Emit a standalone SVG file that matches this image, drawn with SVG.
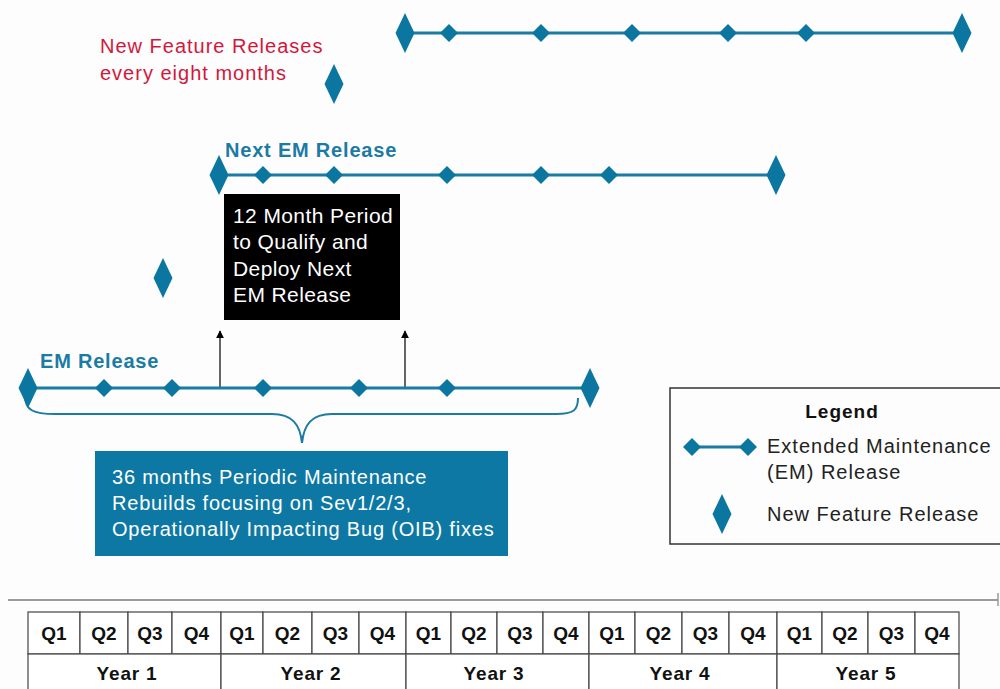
<svg xmlns="http://www.w3.org/2000/svg" xmlns:xlink="http://www.w3.org/1999/xlink" width="1000" height="689" viewBox="0 0 1000 689">
<defs>
<style>
.bg{fill:#fdfdfd}
.ln{stroke:#1b7ba5;stroke-width:3;fill:none}
.dm{fill:#0b77a1}
.red{font-family:"Liberation Sans",Arial,sans-serif;font-size:20px;letter-spacing:1px;fill:#d3173c}
.lbl{font-family:"Liberation Sans",Arial,sans-serif;font-size:20px;letter-spacing:0.8px;font-weight:bold;fill:#1b7ba5}
.wt{font-family:"Liberation Sans",Arial,sans-serif;font-size:20px;letter-spacing:0.8px;fill:#ffffff}
.wn{font-family:"Liberation Sans",Arial,sans-serif;font-size:21px;letter-spacing:0.4px;fill:#ffffff}
.lg{font-family:"Liberation Sans",Arial,sans-serif;font-size:20px;letter-spacing:1px;fill:#222}
.lgb{font-family:"Liberation Sans",Arial,sans-serif;font-size:19px;letter-spacing:1px;font-weight:bold;fill:#111}
.q{font-family:"Liberation Sans",Arial,sans-serif;font-size:19px;font-weight:bold;fill:#111;text-anchor:middle}
.y{font-family:"Liberation Sans",Arial,sans-serif;font-size:19px;letter-spacing:0.8px;font-weight:bold;fill:#111;text-anchor:middle}
.cell{fill:#fff;stroke:#444;stroke-width:1.2}
.arr{stroke:#000;stroke-width:1.2;fill:none;marker-end:url(#ah)}
</style>
<path id="sd" d="M0,-9 L9,0 L0,9 L-9,0Z"/>
<path id="bd" d="M0,-20 L9.5,0 L0,20 L-9.5,0Z"/>
<marker id="ah" viewBox="0 0 10 10" refX="9" refY="5" markerWidth="8" markerHeight="8" orient="auto" markerUnits="userSpaceOnUse">
<path d="M0,0 L10,5 L0,10Z" fill="#000"/>
</marker>
</defs>
<rect class="bg" x="0" y="0" width="1000" height="689"/>

<g id="connectors">
<line class="arr" x1="220" y1="388" x2="220" y2="331"/>
<line class="arr" x1="405" y1="388" x2="405" y2="331"/>
<path d="M25,396 C25,410 33,414 55,414 L272,414 C292,414 300,424 302,443 C304,424 312,414 332,414 L556,414 C574,414 578,410 578,398" stroke="#1b7ba5" stroke-width="2" fill="none"/>
</g>

<g id="nf-label">
<text class="red" x="100" y="53">New Feature Releases</text>
<text class="red" x="100" y="80">every eight months</text>
</g>

<g id="em-top">
<line class="ln" x1="405" y1="33" x2="962" y2="33"/>
<use href="#bd" class="dm" x="405" y="33"/>
<use href="#sd" class="dm" x="449" y="33"/>
<use href="#sd" class="dm" x="541" y="33"/>
<use href="#sd" class="dm" x="632" y="33"/>
<use href="#sd" class="dm" x="728" y="33"/>
<use href="#sd" class="dm" x="806" y="33"/>
<use href="#bd" class="dm" x="962" y="33"/>
</g>

<g id="nf-1"><use href="#bd" class="dm" x="334" y="84"/></g>
<g id="nf-2"><use href="#bd" class="dm" x="163" y="278"/></g>

<g id="em-next">
<text class="lbl" x="225" y="157">Next EM Release</text>
<line class="ln" x1="219" y1="175" x2="776" y2="175"/>
<use href="#bd" class="dm" x="219" y="175"/>
<use href="#sd" class="dm" x="263" y="175"/>
<use href="#sd" class="dm" x="334" y="175"/>
<use href="#sd" class="dm" x="447" y="175"/>
<use href="#sd" class="dm" x="541" y="175"/>
<use href="#sd" class="dm" x="609" y="175"/>
<use href="#bd" class="dm" x="776" y="175"/>
</g>

<g id="qualify-box">
<rect x="224" y="194" width="176" height="126" fill="#000"/>
<text class="wn" x="233" y="223">12 Month Period</text>
<text class="wn" x="233" y="249">to Qualify and</text>
<text class="wn" x="233" y="276">Deploy Next</text>
<text class="wn" x="233" y="302">EM Release</text>
</g>

<g id="em-current">
<text class="lbl" x="40" y="368">EM Release</text>
<line class="ln" x1="28" y1="388" x2="590" y2="388"/>
<use href="#bd" class="dm" x="28" y="388"/>
<use href="#sd" class="dm" x="104" y="388"/>
<use href="#sd" class="dm" x="172" y="388"/>
<use href="#sd" class="dm" x="263" y="388"/>
<use href="#sd" class="dm" x="359" y="388"/>
<use href="#sd" class="dm" x="447" y="388"/>
<use href="#bd" class="dm" x="590" y="388"/>
</g>

<g id="maintenance-box">
<rect x="95" y="451" width="413" height="105" fill="#0d78a4"/>
<text class="wt" x="112" y="484">36 months Periodic Maintenance</text>
<text class="wt" x="112" y="510">Rebuilds focusing on Sev1/2/3,</text>
<text class="wt" x="112" y="536">Operationally Impacting Bug (OIB) fixes</text>
</g>

<g id="legend">
<rect x="670" y="388" width="340" height="156" fill="#fdfdfd" stroke="#333" stroke-width="1.5"/>
<text class="lgb" x="842" y="418" text-anchor="middle">Legend</text>
<line class="ln" x1="692" y1="447" x2="748" y2="447" stroke-width="2.5"/>
<use href="#sd" class="dm" x="692" y="447"/>
<use href="#sd" class="dm" x="748" y="447"/>
<text class="lg" x="767" y="453">Extended Maintenance</text>
<text class="lg" x="767" y="479">(EM) Release</text>
<use href="#bd" class="dm" x="722" y="514"/>
<text class="lg" x="767" y="521">New Feature Release</text>
</g>

<g id="timeline">
<line x1="8" y1="600" x2="998" y2="600" stroke="#9a9a9a" stroke-width="2"/>
<line x1="998" y1="593" x2="998" y2="606" stroke="#9a9a9a" stroke-width="1.5"/>
<g id="quarters">
<rect class="cell" x="28" y="612" width="52" height="42"/>
<rect class="cell" x="80" y="612" width="48" height="42"/>
<rect class="cell" x="128" y="612" width="44" height="42"/>
<rect class="cell" x="172" y="612" width="49" height="42"/>
<rect class="cell" x="221" y="612" width="42" height="42"/>
<rect class="cell" x="263" y="612" width="49" height="42"/>
<rect class="cell" x="312" y="612" width="47" height="42"/>
<rect class="cell" x="359" y="612" width="47" height="42"/>
<rect class="cell" x="406" y="612" width="45" height="42"/>
<rect class="cell" x="451" y="612" width="46" height="42"/>
<rect class="cell" x="497" y="612" width="46" height="42"/>
<rect class="cell" x="543" y="612" width="46" height="42"/>
<rect class="cell" x="589" y="612" width="46" height="42"/>
<rect class="cell" x="635" y="612" width="47" height="42"/>
<rect class="cell" x="682" y="612" width="47" height="42"/>
<rect class="cell" x="729" y="612" width="48" height="42"/>
<rect class="cell" x="777" y="612" width="45" height="42"/>
<rect class="cell" x="822" y="612" width="46" height="42"/>
<rect class="cell" x="868" y="612" width="47" height="42"/>
<rect class="cell" x="915" y="612" width="44" height="42"/>
<text class="q" x="54" y="640">Q1</text>
<text class="q" x="104" y="640">Q2</text>
<text class="q" x="150" y="640">Q3</text>
<text class="q" x="196.5" y="640">Q4</text>
<text class="q" x="242" y="640">Q1</text>
<text class="q" x="287.5" y="640">Q2</text>
<text class="q" x="335.5" y="640">Q3</text>
<text class="q" x="382.5" y="640">Q4</text>
<text class="q" x="428.5" y="640">Q1</text>
<text class="q" x="474" y="640">Q2</text>
<text class="q" x="520" y="640">Q3</text>
<text class="q" x="566" y="640">Q4</text>
<text class="q" x="612" y="640">Q1</text>
<text class="q" x="658.5" y="640">Q2</text>
<text class="q" x="705.5" y="640">Q3</text>
<text class="q" x="753" y="640">Q4</text>
<text class="q" x="799.5" y="640">Q1</text>
<text class="q" x="845" y="640">Q2</text>
<text class="q" x="891.5" y="640">Q3</text>
<text class="q" x="937" y="640">Q4</text>
</g>
<g id="years">
<rect class="cell" x="28" y="654" width="193" height="40"/>
<rect class="cell" x="221" y="654" width="185" height="40"/>
<rect class="cell" x="406" y="654" width="183" height="40"/>
<rect class="cell" x="589" y="654" width="188" height="40"/>
<rect class="cell" x="777" y="654" width="182" height="40"/>
<text class="y" x="127" y="680">Year 1</text>
<text class="y" x="311" y="680">Year 2</text>
<text class="y" x="494" y="680">Year 3</text>
<text class="y" x="680" y="680">Year 4</text>
<text class="y" x="866" y="680">Year 5</text>
</g>
</g>
</svg>
